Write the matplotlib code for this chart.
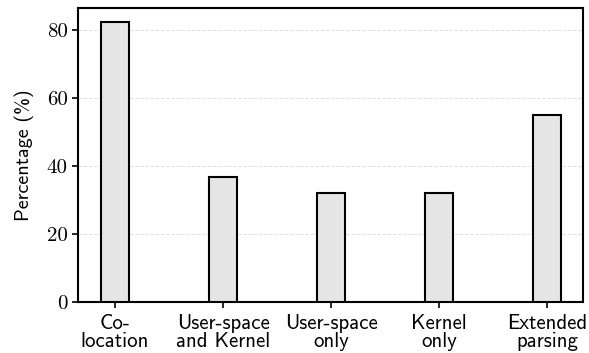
import matplotlib
matplotlib.use('Agg')
import matplotlib.pyplot as plt

# Data
categories = ['Co-\nlocation', 'User-space\nand Kernel', 'User-space\nonly',
              'Kernel\nonly', 'Extended\nparsing']
percentages = [82.2, 36.8, 32.0, 32.0, 54.8]
yticks = [0, 20, 40, 60, 80]

plt.rcParams['font.family'] = 'cmss10'
plt.rcParams['axes.formatter.use_mathtext'] = True

fig = plt.figure(figsize=(5.89, 3.53), dpi=100)
ax = fig.add_axes([0.1324, 0.1453, 0.8574, 0.832])

x = range(len(categories))
ax.bar(x, percentages, width=0.26, color='#e5e5e5', edgecolor='black',
       linewidth=1.5, zorder=3)

ax.set_xlim(-0.343, 4.333)
ax.set_ylim(0, 86.4)
ax.set_xticks(list(x))
ax.set_xticklabels(categories, fontsize=15, linespacing=0.95)
ax.set_yticks(yticks)
ax.set_yticklabels([str(v) for v in yticks], fontfamily='cmr10', fontsize=15)
ax.set_ylabel('Percentage (%)', fontsize=14.5, labelpad=9)

ax.grid(axis='y', color='#e0e0e0', linestyle='--', linewidth=0.7, zorder=0)
for s in ax.spines.values():
    s.set_linewidth(1.5)
ax.tick_params(axis='both', width=1.2, length=4, direction='out')
ax.tick_params(axis='x', pad=4.5)

fig.savefig('out.png', dpi=100)
